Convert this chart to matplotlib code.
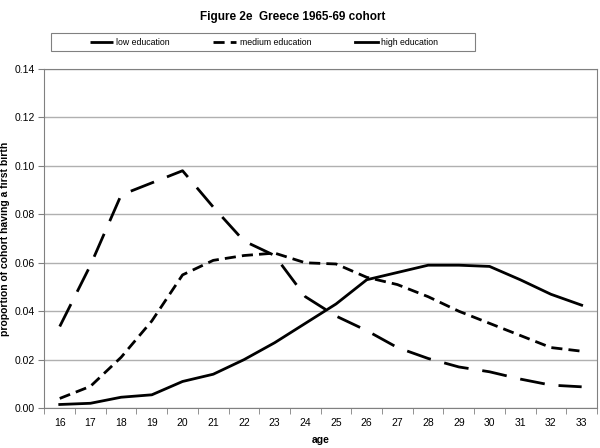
import matplotlib
matplotlib.use("Agg")
import matplotlib.pyplot as plt
from matplotlib.patches import Rectangle

plt.rcParams['font.family'] = ['Liberation Sans', 'DejaVu Sans']

ages = list(range(16, 34))
low = [0.0337, 0.059, 0.088, 0.093, 0.098, 0.083, 0.069, 0.063, 0.046, 0.038,
       0.032, 0.025, 0.0205, 0.017, 0.015, 0.012, 0.0095, 0.0088]
medium = [0.004, 0.009, 0.021, 0.036, 0.055, 0.061, 0.063, 0.064, 0.060, 0.0595,
          0.054, 0.051, 0.046, 0.040, 0.035, 0.030, 0.025, 0.0235]
high = [0.0015, 0.002, 0.0045, 0.0055, 0.011, 0.014, 0.020, 0.027, 0.035, 0.043,
        0.053, 0.056, 0.059, 0.059, 0.0585, 0.053, 0.047, 0.0425]

fig = plt.figure(figsize=(6, 4.48), dpi=100)
ax = fig.add_axes([0.074, 0.089, 0.921, 0.757])

ax.plot(ages, low, color='black', lw=2, dashes=(9, 5), label='low education')
ax.plot(ages, medium, color='black', lw=2, dashes=(4, 2.2), label='medium education')
ax.plot(ages, high, color='black', lw=2, label='high education')

ax.set_xlim(15.5, 33.5)
ax.set_ylim(0, 0.14)
ax.set_yticks([i * 0.02 for i in range(8)])
ax.set_yticklabels([f"{i * 0.02:.2f}" for i in range(8)], fontsize=7.5)
ax.set_xticks(ages)
ax.set_xticklabels([str(a) for a in ages], fontsize=7.5)
ax.set_xticks([a + 0.5 for a in range(15, 34)], minor=True)
ax.tick_params(axis='x', which='major', length=0, pad=7)
ax.tick_params(axis='x', which='minor', length=4, color='gray', direction='out')
ax.tick_params(axis='y', length=4, color='gray', direction='out', pad=3)
ax.grid(axis='y', color='#b0b0b0', lw=1)
ax.set_axisbelow(True)
for s in ax.spines.values():
    s.set_color('gray')

ax.set_xlabel('age', fontsize=7.5, fontweight='bold', labelpad=5)
ax.set_ylabel('proportion of cohort having a first birth', fontsize=7.5,
              fontweight='bold', labelpad=3)

fig.text(0.487, 0.975, 'Figure 2e  Greece 1965-69 cohort', ha='center', va='top',
         fontsize=8.5, fontweight='bold')

# legend box drawn separately (wider than the entries, like the original)
fig.patches.append(Rectangle((0.085, 0.886), 0.707, 0.040, transform=fig.transFigure,
                             facecolor='white', edgecolor='gray', lw=0.8))
leg = fig.legend(loc='center', bbox_to_anchor=(0.44, 0.906), ncol=3, fontsize=6.3,
                 frameon=False, handlelength=2.6, handletextpad=0.4,
                 columnspacing=5.0, borderpad=0.2)

fig.savefig('out.png', dpi=100)
